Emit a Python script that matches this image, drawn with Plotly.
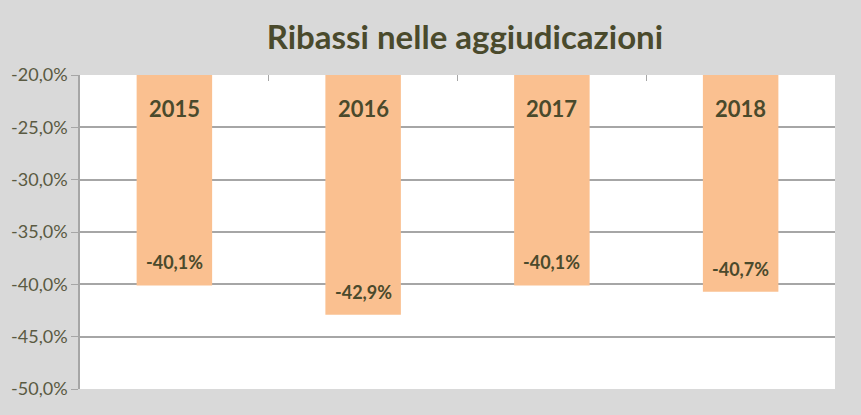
import plotly.graph_objects as go

years = ["2015", "2016", "2017", "2018"]
ribassi = [-40.1, -42.9, -40.1, -40.7]
y_ticks = [-20, -25, -30, -35, -40, -45, -50]
y_labels = ["-20,0%", "-25,0%", "-30,0%", "-35,0%", "-40,0%", "-45,0%", "-50,0%"]

BAR = "#FAC090"
DARK = "#4A4A2C"
TICK = "#5A5A42"
GRID = "#A6A6A6"
FONT = "Lato"

fig = go.Figure()
fig.add_trace(go.Bar(
    x=years, y=[v - (-20) for v in ribassi], base=[-20] * len(years),
    marker=dict(color=BAR, line=dict(width=0)),
    hoverinfo="skip",
))

annotations = []
for i, (yr, v) in enumerate(zip(years, ribassi)):
    annotations.append(dict(
        x=i, y=-20, xref="x", yref="y", text="<b>%s</b>" % yr,
        showarrow=False, yanchor="top", yshift=-18,
        font=dict(family=FONT, size=22, color=DARK),
    ))
    annotations.append(dict(
        x=i, y=v, xref="x", yref="y",
        text="<b>%s%%</b>" % ("%.1f" % v).replace(".", ","),
        showarrow=False, yanchor="bottom", yshift=10,
        font=dict(family=FONT, size=18, color=DARK),
    ))

fig.update_layout(
    width=861, height=415,
    paper_bgcolor="#D9D9D9", plot_bgcolor="#FFFFFF",
    margin=dict(l=80, r=26, t=75, b=26),
    showlegend=False, bargap=0.6,
    title=dict(text="<b>Ribassi nelle aggiudicazioni</b>", x=0.54, xanchor="center",
               y=0.91, yanchor="middle",
               font=dict(family=FONT, size=33, color=DARK)),
    annotations=annotations,
    xaxis=dict(type="category", categoryorder="array", categoryarray=years,
               range=[-0.5, len(years) - 0.5],
               side="top", showticklabels=False, showline=False,
               ticks="inside", tickson="boundaries", ticklen=6, tickcolor=GRID,
               showgrid=False, zeroline=False, fixedrange=True),
    yaxis=dict(range=[-50, -20], tickvals=y_ticks, ticktext=y_labels,
               showgrid=True, gridcolor=GRID, gridwidth=1.5,
               showline=True, linecolor=GRID, linewidth=1.5,
               ticks="outside", ticklen=7, tickcolor=GRID,
               zeroline=False,
               tickfont=dict(family=FONT, size=18, color=TICK), fixedrange=True),
)

fig.write_html("out.html", config={"displayModeBar": False},
               post_script="document.body.style.margin='0px';")
